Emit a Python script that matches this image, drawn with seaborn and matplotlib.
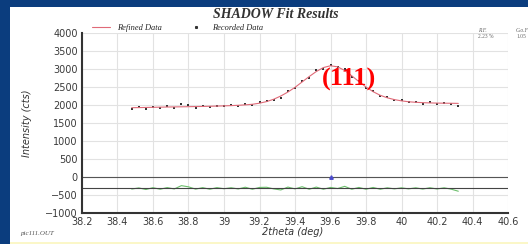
import seaborn as sns
import matplotlib.pyplot as plt
import matplotlib.patches as mpatches
from matplotlib.lines import Line2D
import numpy as np
import pandas as pd

# 2theta grid (deg)
two_theta = [
    38.48, 38.52, 38.56, 38.60, 38.64, 38.68, 38.72, 38.76, 38.80, 38.84,
    38.88, 38.92, 38.96, 39.00, 39.04, 39.08, 39.12, 39.16, 39.20, 39.24,
    39.28, 39.32, 39.36, 39.40, 39.44, 39.48, 39.52, 39.56, 39.60, 39.64,
    39.68, 39.72, 39.76, 39.80, 39.84, 39.88, 39.92, 39.96, 40.00, 40.04,
    40.08, 40.12, 40.16, 40.20, 40.24, 40.28, 40.32,
]

refined = [
    1925, 1928, 1932, 1936, 1940, 1944, 1947, 1950, 1953, 1957,
    1960, 1965, 1970, 1976, 1983, 1992, 2004, 2020, 2050, 2095,
    2160, 2250, 2360, 2490, 2640, 2790, 2930, 3040, 3090, 3060,
    2960, 2810, 2650, 2500, 2370, 2270, 2200, 2150, 2115, 2090,
    2075, 2065, 2058, 2053, 2050, 2048, 2045,
]

recorded = [
    1900, 1935, 1895, 1950, 1910, 1960, 1925, 2020, 1990, 1930,
    1975, 1935, 1985, 1960, 1995, 1970, 2030, 1990, 2070, 2120,
    2140, 2200, 2390, 2470, 2680, 2760, 2960, 3010, 3110, 3050,
    3010, 2780, 2670, 2470, 2390, 2240, 2210, 2130, 2125, 2070,
    2085, 2040, 2070, 2030, 2060, 2020, 1960,
]

RESID_OFFSET = -310
PEAK_POS = 39.6

x_ticks = [38.2, 38.4, 38.6, 38.8, 39.0, 39.2, 39.4, 39.6, 39.8, 40.0, 40.2, 40.4, 40.6]
y_ticks = [-1000, -500, 0, 500, 1000, 1500, 2000, 2500, 3000, 3500, 4000]

df = pd.DataFrame({"two_theta": two_theta, "refined": refined, "recorded": recorded})
df["residual"] = df["recorded"] - df["refined"] + RESID_OFFSET

sns.set_style("whitegrid")
plt.rcParams["font.family"] = ["DejaVu Sans"]

W, H = 528, 244
fig = plt.figure(figsize=(W / 100, H / 100), dpi=100)
fig.patch.set_facecolor("#0b3d7e")
# white slide panel
fig.add_artist(mpatches.Rectangle((10 / W, 2 / H), 1 - 10 / W, (H - 9) / H,
                                  transform=fig.transFigure, facecolor="white",
                                  edgecolor="none", zorder=0))
fig.add_artist(mpatches.Rectangle((10 / W, 0), 1 - 10 / W, 2 / H,
                                  transform=fig.transFigure, facecolor="#fbf7c8",
                                  edgecolor="none", zorder=0))

ax = fig.add_axes([82 / W, 31 / H, 426 / W, 180 / H])
ax.set_facecolor("white")

sns.lineplot(data=df, x="two_theta", y="refined", ax=ax, color="#e06a78", lw=0.8)
sns.scatterplot(data=df, x="two_theta", y="recorded", ax=ax, color="#333333",
                s=2, marker="s", linewidth=0)
sns.lineplot(data=df, x="two_theta", y="residual", ax=ax, color="#6cbf6c", lw=0.8)

ax.axhline(0, color="#555555", lw=0.8)
ax.axhline(RESID_OFFSET, color="#444444", lw=0.8)
ax.plot([PEAK_POS], [0], marker="^", color="#4a4acc", ms=2.5)

ax.text(39.707, 2720, "(111)", color="red", fontsize=19, fontweight="bold",
        family="Liberation Serif", ha="center", va="center")

ax.set_xlim(38.2, 40.6)
ax.set_ylim(-1000, 4000)
ax.set_xticks(x_ticks)
ax.set_yticks(y_ticks)
ax.set_xticklabels([f"{t:g}" for t in x_ticks])
ax.tick_params(labelsize=7, colors="#3a3a3a", length=2, pad=1)
ax.grid(color="#e2e2e2", lw=0.8)
for side in ["top", "right"]:
    ax.spines[side].set_visible(False)
for side in ["left", "bottom"]:
    ax.spines[side].set_color("#333333")
    ax.spines[side].set_linewidth(1.5)
ax.set_xlabel("")
ax.set_ylabel("")

# legend above the plot area
handles = [
    Line2D([], [], color="#e06a78", lw=0.8),
    Line2D([], [], color="#333333", marker="s", ms=1.2, lw=0),
]
ax.legend(handles, ["Refined Data", "Recorded Data"], loc="lower left",
          bbox_to_anchor=(0.015, 0.985), ncol=2, frameon=False, handlelength=2.2,
          columnspacing=3.0, borderaxespad=0,
          prop={"family": "Liberation Serif", "style": "italic", "size": 6})

fig.text(276 / W, 1 - 14 / H, "SHADOW Fit Results", family="Liberation Serif",
         style="italic", fontweight="bold", fontsize=10, ha="center", va="center",
         color="#333333")
fig.text(27 / W, 1 - 123 / H, "Intensity (cts)", rotation=90, style="italic",
         fontsize=7, ha="center", va="center", color="#333333")
fig.text(293 / W, 1 - 232 / H, "2theta (deg)", style="italic", fontsize=7,
         ha="center", va="center", color="#333333")
fig.text(20 / W, 1 - 233 / H, "pic111.OUT", family="Liberation Serif",
         style="italic", fontsize=5, ha="left", va="center", color="#555555")
fig.text(478 / W, 1 - 30 / H, "R.F.", family="Liberation Serif", style="italic",
         fontsize=4, ha="left", va="center", color="#666666")
fig.text(478 / W, 1 - 37 / H, "2.23 %", family="Liberation Serif", fontsize=4,
         ha="left", va="center", color="#666666")
fig.text(516 / W, 1 - 30 / H, "G.o.F", family="Liberation Serif", style="italic",
         fontsize=4, ha="left", va="center", color="#666666")
fig.text(516 / W, 1 - 37 / H, "1.05", family="Liberation Serif", fontsize=4,
         ha="left", va="center", color="#666666")

fig.savefig("out.png", dpi=100, facecolor=fig.get_facecolor())
